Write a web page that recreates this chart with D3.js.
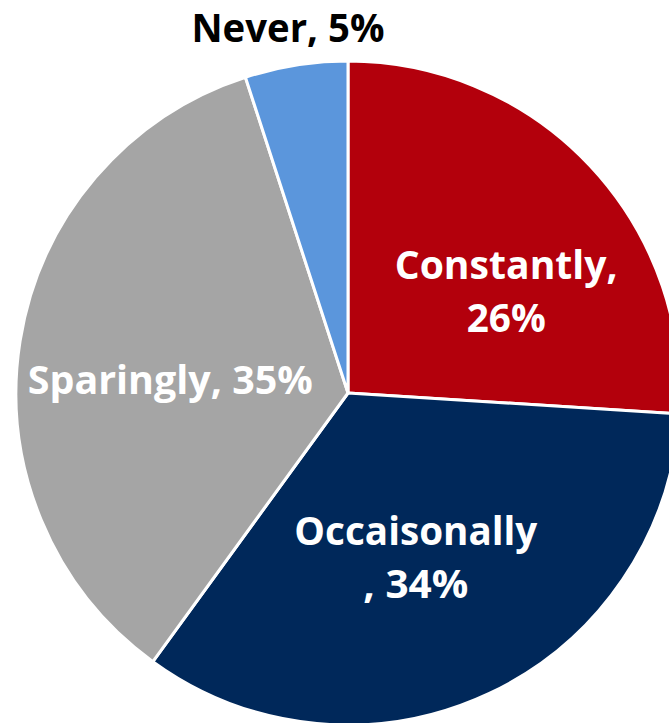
<!DOCTYPE html>
<html>
<head>
<meta charset="utf-8">
<script src="https://cdn.jsdelivr.net/npm/d3@7"></script>
<style>
  html, body { margin: 0; padding: 0; background: #fff; }
  svg { display: block; }
  text { font-family: "Open Sans", "Liberation Sans", sans-serif; font-weight: bold; }
</style>
</head>
<body>
<svg id="chart" width="669" height="723"></svg>
<script>
// data
var categories = ['Constantly', 'Occaisonally', 'Sparingly', 'Never'];
var values     = [26, 34, 35, 5];
var labelLines = [
    ['Constantly,', '26%'],
    ['Occaisonally', ', 34%'],
    ['Sparingly, 35%'],
    ['Never, 5%']
];

// styling / layout
var colors     = ['#B3000C', '#00285A', '#A5A5A5', '#5B96DC'];
var textColors = ['#fff', '#fff', '#fff', '#000'];
var labelFrac  = [0.6, 0.6, 0.6, 1.08];
var labelNudge = [[13, 34], [-17, -16], [19, 18], [-4, -11]];
var labelWidth = [[223, 79], [243, 105], [285], [193]];

var width  = 669;
var height = 723;
var cx = 348, cy = 393, radius = 332;
var fontSize = 39, lineGap = 53, capH = 29;

var svg = d3.select('#chart');
var g = svg.append('g').attr('transform', 'translate(' + cx + ',' + cy + ')');

var pie = d3.pie().sort(null).value(function(d) { return d; });
var arcs = pie(values);

var arc = d3.arc().innerRadius(0).outerRadius(radius);

g.selectAll('.slice')
    .data(arcs)
    .enter().append('path')
    .attr('class', 'slice')
    .attr('d', arc)
    .attr('fill', function(d, i) { return colors[i]; })
    .attr('stroke', '#fff')
    .attr('stroke-width', 3)
    .attr('stroke-linejoin', 'round');

arcs.forEach(function(d, i) {
    var la = d3.arc().innerRadius(radius * labelFrac[i]).outerRadius(radius * labelFrac[i]);
    var c = la.centroid(d);
    var x = c[0] + labelNudge[i][0];
    var y = c[1] + labelNudge[i][1];
    var lines = labelLines[i];
    var n = lines.length;

    var text = g.append('text')
        .attr('text-anchor', 'middle')
        .attr('fill', textColors[i])
        .style('font-size', fontSize + 'px');

    lines.forEach(function(line, j) {
        var by = y - (n - 1) * lineGap / 2 + j * lineGap + capH / 2;
        text.append('tspan')
            .attr('x', x)
            .attr('y', by)
            .attr('textLength', labelWidth[i][j])
            .attr('lengthAdjust', 'spacingAndGlyphs')
            .text(line);
    });
});
</script>
</body>
</html>
